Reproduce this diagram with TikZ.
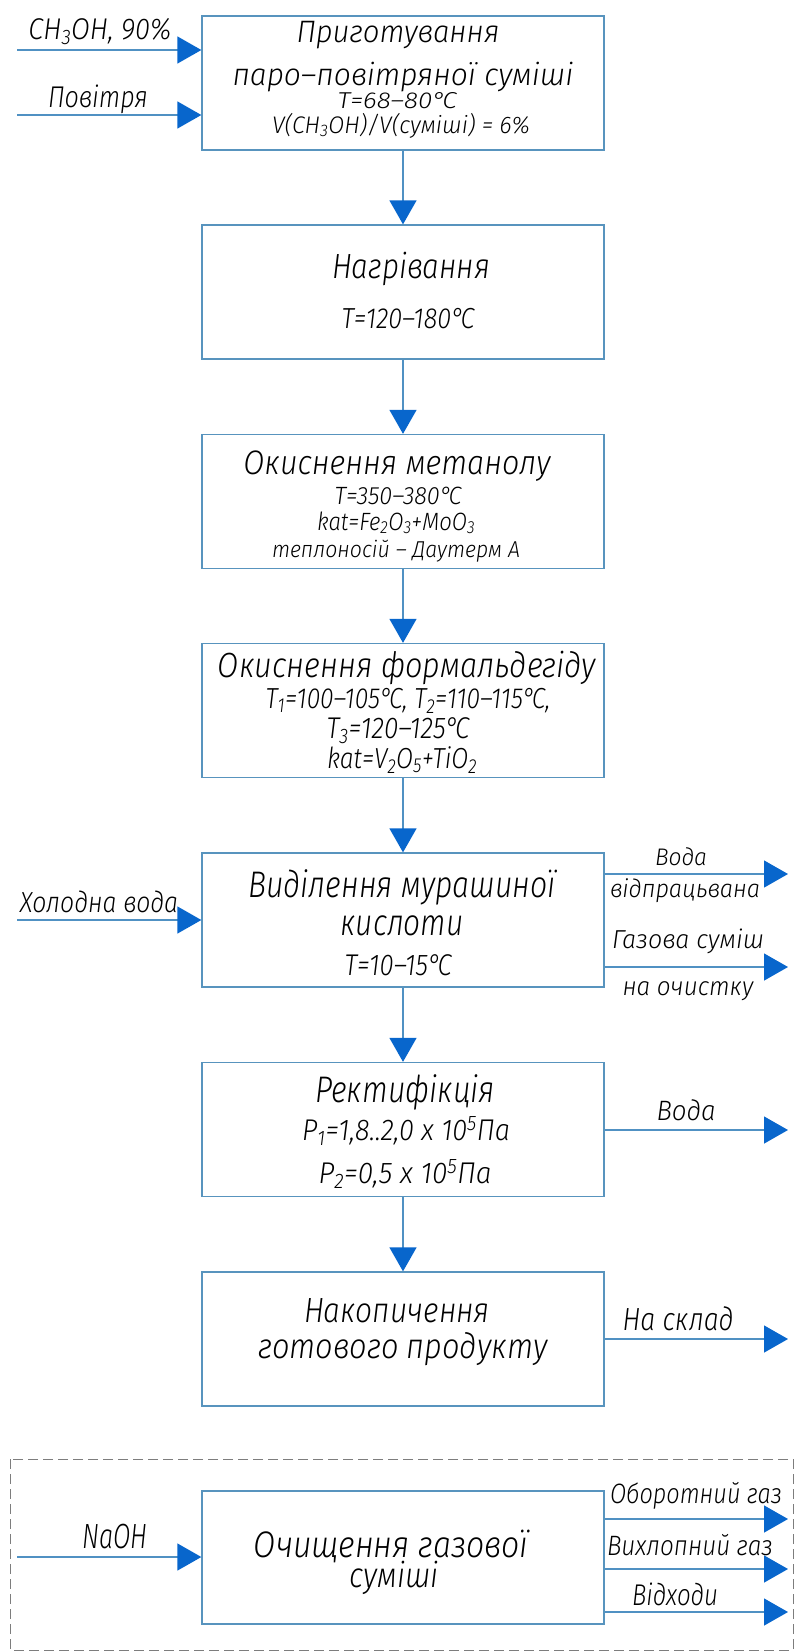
\documentclass[tikz,border=0pt]{standalone}
\usepackage{fontspec}
\usepackage{graphicx}
\newfontfamily\gost{Fira Sans Light Italic}
\usetikzlibrary{arrows.meta}
\definecolor{boxline}{RGB}{88,148,190}
\definecolor{flow}{RGB}{80,145,195}
\definecolor{tipblue}{RGB}{8,102,204}
\definecolor{dashgray}{RGB}{125,125,125}
\newcommand{\fitline}[3]{{\fontsize{#1}{#1}\selectfont\resizebox{#2pt}{\height}{#3}}}
\newcommand{\dg}{°\kern-0.14em}
\begin{document}
\begin{tikzpicture}[x=1pt,y=-1pt,
  procbox/.style={draw=boxline, line width=1.3pt, minimum width=402pt, minimum height=134pt, inner sep=0pt},
  flowline/.style={draw=flow, line width=1.3pt, -{Triangle[length=24pt,width=27pt,color=tipblue]}},
  txt/.style={inner sep=0pt, anchor=base, font=\gost},
  groupframe/.style={draw=dashgray, line width=0.9pt, dash pattern=on 10pt off 5pt}
]
\useasboundingbox (0,0) rectangle (795,1652);

% process boxes
\node[procbox] (b1) at (403,83) {};
\node[procbox] (b2) at (403,292) {};
\node[procbox] (b3) at (403,501.5) {};
\node[procbox] (b4) at (403,710.5) {};
\node[procbox] (b5) at (403,920) {};
\node[procbox] (b6) at (403,1129.5) {};
\node[procbox] (b7) at (403,1339) {};
\node[procbox, minimum height=133pt] (b8) at (403,1557.5) {};

% group frame
\draw[groupframe] (10,1459) rectangle (793,1650);

% box texts
\node[txt] (t11) at (398,42) {\fitline{31}{203}{Приготування}};
\node[txt] (t12) at (403,85) {\fitline{31}{341}{паро–повітряної суміші}};
\node[txt] (t13) at (397,108) {\fitline{23}{119}{T=68–80\dg C}};
\node[txt] (t14) at (401,133) {\fitline{24}{258}{V(CH\textsubscript{3}OH)/V(суміші) = 6\%}};

\node[txt] (t21) at (411,278) {\fitline{35}{158}{Нагрівання}};
\node[txt] (t22) at (408,328) {\fitline{29}{133}{T=120–180\dg C}};

\node[txt] (t31) at (397,474) {\fitline{34}{307}{Окиснення метанолу}};
\node[txt] (t32) at (398,504) {\fitline{25}{127}{T=350–380\dg C}};
\node[txt] (t33) at (396,530) {\fitline{25}{158}{kat=Fe\textsubscript{2}O\textsubscript{3}+MoO\textsubscript{3}}};
\node[txt] (t34) at (396,557) {\fitline{23}{248}{теплоносій – Даутерм А}};

\node[txt] (t41) at (407,677) {\fitline{35}{378}{Окиснення формальдегіду}};
\node[txt] (t42) at (408,708) {\fitline{29}{285}{T\textsubscript{1}=100–105\dg C, T\textsubscript{2}=110–115\dg C,}};
\node[txt] (t43) at (398,738) {\fitline{30}{143}{T\textsubscript{3}=120–125\dg C}};
\node[txt] (t44) at (402,768) {\fitline{29}{150}{kat=V\textsubscript{2}O\textsubscript{5}+TiO\textsubscript{2}}};

\node[txt] (t51) at (402,897) {\fitline{37}{307}{Виділення мурашиної}};
\node[txt] (t52) at (402,935) {\fitline{37}{123}{кислоти}};
\node[txt] (t53) at (398,975) {\fitline{30}{107}{T=10–15\dg C}};

\node[txt] (t61) at (405,1102) {\fitline{37}{180}{Ректифікція}};
\node[txt] (t62) at (406,1140) {\fitline{30}{208}{P\textsubscript{1}=1,8..2,0 x 10\textsuperscript{5}Па}};
\node[txt] (t63) at (405,1183) {\fitline{30}{173}{P\textsubscript{2}=0,5 x 10\textsuperscript{5}Па}};

\node[txt] (t71) at (397,1322) {\fitline{35}{186}{Накопичення}};
\node[txt] (t72) at (403,1358) {\fitline{35}{289}{готового продукту}};

\node[txt] (t81) at (391,1557) {\fitline{37}{274}{Очищення газової}};
\node[txt] (t82) at (394,1587) {\fitline{35}{89}{суміші}};

% vertical flow
\draw[flowline] (b1.south) -- (b2.north);
\draw[flowline] (b2.south) -- (b3.north);
\draw[flowline] (b3.south) -- (b4.north);
\draw[flowline] (b4.south) -- (b5.north);
\draw[flowline] (b5.south) -- (b6.north);
\draw[flowline] (b6.south) -- (b7.north);

% inputs
\coordinate (i1) at (17,50);
\coordinate (i2) at (17,115);
\coordinate (i5) at (17,920);
\coordinate (i8) at (17,1557);
\draw[flowline] (i1) -- (i1 -| b1.west);
\draw[flowline] (i2) -- (i2 -| b1.west);
\draw[flowline] (i5) -- (i5 -| b5.west);
\draw[flowline] (i8) -- (i8 -| b8.west);

% outputs
\coordinate (o5a) at (788,874);
\coordinate (o5b) at (788,967);
\coordinate (o6) at (788,1130);
\coordinate (o7) at (788,1339);
\coordinate (o8a) at (788,1519);
\coordinate (o8b) at (788,1569);
\coordinate (o8c) at (788,1612);
\draw[flowline] (b5.east |- o5a) -- (o5a);
\draw[flowline] (b5.east |- o5b) -- (o5b);
\draw[flowline] (b6.east |- o6) -- (o6);
\draw[flowline] (b7.east |- o7) -- (o7);
\draw[flowline] (b8.east |- o8a) -- (o8a);
\draw[flowline] (b8.east |- o8b) -- (o8b);
\draw[flowline] (b8.east |- o8c) -- (o8c);

% side labels
\node[txt] (l1) at (100,39) {\fitline{30}{143}{CH\textsubscript{3}OH, 90\%}};
\node[txt] (l2) at (98,107) {\fitline{30}{100}{Повітря}};
\node[txt] (l5) at (99,912) {\fitline{29}{158}{Холодна вода}};
\node[txt] (l8) at (115,1548) {\fitline{35}{65}{NaOH}};

\node[txt] (r5a) at (681,865) {\fitline{24}{52}{Вода}};
\node[txt] (r5b) at (685,897) {\fitline{25}{150}{відпрацьвана}};
\node[txt] (r5c) at (688,948) {\fitline{26}{152}{Газова суміш}};
\node[txt] (r5d) at (688,995) {\fitline{26}{131}{на очистку}};
\node[txt] (r6) at (686,1120) {\fitline{28}{59}{Вода}};
\node[txt] (r7) at (678,1330) {\fitline{32}{111}{На склад}};
\node[txt] (r8a) at (696,1503) {\fitline{28}{172}{Оборотний газ}};
\node[txt] (r8b) at (690,1555) {\fitline{28}{166}{Вихлопний газ}};
\node[txt] (r8c) at (675,1605) {\fitline{30}{86}{Відходи}};
\end{tikzpicture}
\end{document}
